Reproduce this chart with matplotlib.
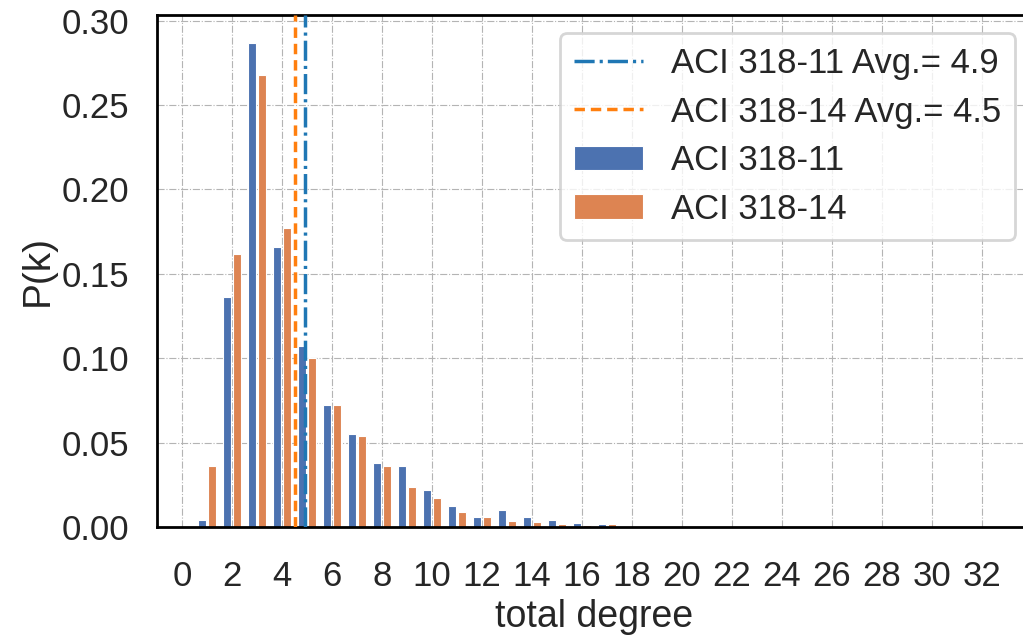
import numpy as np
import matplotlib
matplotlib.use("Agg")
import matplotlib.pyplot as plt

# Degree distribution P(k) for the two code versions
degree = list(range(1, 21))
p_aci11 = [0.004, 0.136, 0.287, 0.166, 0.107, 0.072, 0.055, 0.038, 0.036, 0.022,
           0.0125, 0.006, 0.010, 0.006, 0.004, 0.0022, 0.0018, 0.0008, 0.0, 0.0007]
p_aci14 = [0.036, 0.162, 0.268, 0.177, 0.100, 0.072, 0.054, 0.036, 0.0235, 0.017,
           0.009, 0.006, 0.0035, 0.0027, 0.002, 0.001, 0.0016, 0.0, 0.0, 0.0]
avg_aci11 = 4.9
avg_aci14 = 4.5
series_labels = ["ACI 318-11", "ACI 318-14"]
x_ticks = list(range(0, 33, 2))
y_ticks = [0.00, 0.05, 0.10, 0.15, 0.20, 0.25, 0.30]

plt.rcParams["font.family"] = ["Liberation Sans", "DejaVu Sans"]
text_color = "#262626"

fig = plt.figure(figsize=(10.23, 6.39), dpi=100)
ax = fig.add_axes([157 / 1023, 1 - 527 / 639, 875 / 1023, 512 / 639])
ax.set_facecolor("white")

k = np.array(degree, dtype=float)
bar_w = 0.3
b1 = ax.bar(k - 0.2, p_aci11, width=bar_w, color="#4c72b0", edgecolor="white",
            linewidth=0.8, label=series_labels[0], zorder=2)
b2 = ax.bar(k + 0.2, p_aci14, width=bar_w, color="#dd8452", edgecolor="white",
            linewidth=0.8, label=series_labels[1], zorder=2)

l1 = ax.axvline(avg_aci11, color="#1f77b4", lw=2.5, dashes=(5.8, 1.45, 0.9, 1.45),
                label=f"{series_labels[0]} Avg.= {avg_aci11}", zorder=3)
l2 = ax.axvline(avg_aci14, color="#ff7f0e", lw=2.5, dashes=(3.0, 1.7),
                label=f"{series_labels[1]} Avg.= {avg_aci14}", zorder=3)

ax.set_xlim(-1, 34)
ax.set_ylim(0, 0.3034)
ax.set_xticks(x_ticks)
ax.set_yticks(y_ticks)
ax.set_yticklabels([f"{v:.2f}" for v in y_ticks])

ax.set_axisbelow(True)
ax.grid(True, color="#b4b4b4", linestyle="-.", linewidth=0.8)

for s in ax.spines.values():
    s.set_color("black")
    s.set_linewidth(2.0)

ax.tick_params(axis="both", length=0, labelsize=25, colors=text_color)
ax.tick_params(axis="y", pad=20)
ax.tick_params(axis="x", pad=24)
ax.set_xlabel("total degree", fontsize=27, color=text_color, labelpad=4)
ax.set_ylabel("P(k)", fontsize=28, color=text_color, labelpad=4)

leg = ax.legend([l1, l2, b1, b2],
                [l1.get_label(), l2.get_label(), series_labels[0], series_labels[1]],
                loc="upper right", bbox_to_anchor=(1015 / 1023, 1 - 33 / 639),
                bbox_transform=fig.transFigure, borderaxespad=0,
                fontsize=25, handlelength=2.0, handletextpad=0.8,
                labelspacing=0.45, frameon=True, fancybox=True, framealpha=0.8)
leg.get_frame().set_edgecolor("#cccccc")
leg.get_frame().set_linewidth(2)
for t in leg.get_texts():
    t.set_color(text_color)

fig.savefig("out.png", dpi=100)
